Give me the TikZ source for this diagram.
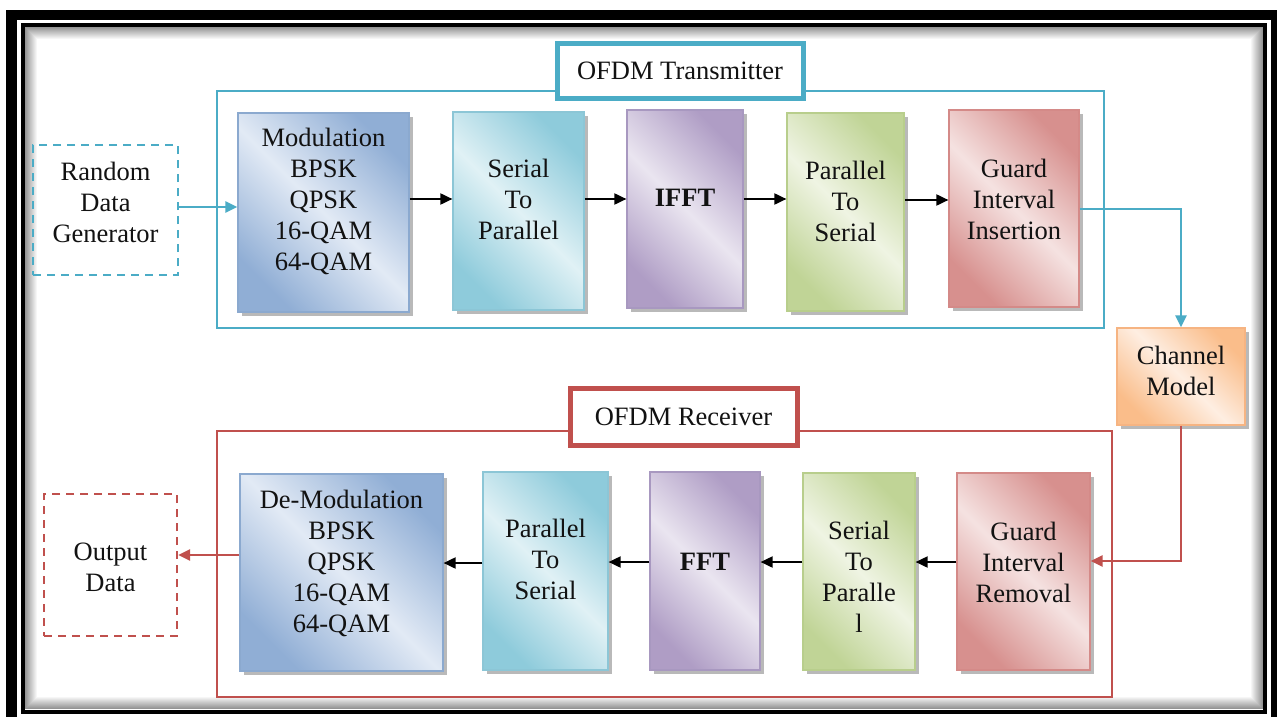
\documentclass[tikz,border=0pt]{standalone}
\usepackage{fontspec}
\setmainfont{Liberation Serif}
\usetikzlibrary{arrows.meta,shadows}

% line colours
\definecolor{tealln}{HTML}{4BACC6}
\definecolor{redln}{HTML}{C0504D}
\definecolor{ink}{HTML}{121212}
% block fills: dark / light / border
\definecolor{bluD}{HTML}{90AED5}
\definecolor{bluL}{HTML}{E2EAF5}
\definecolor{bluB}{HTML}{8BA9CF}
\definecolor{aquD}{HTML}{8ECBDB}
\definecolor{aquL}{HTML}{E0F1F5}
\definecolor{aquB}{HTML}{8CC6D6}
\definecolor{purD}{HTML}{AF9DC5}
\definecolor{purL}{HTML}{EAE5F0}
\definecolor{purB}{HTML}{A898C0}
\definecolor{grnD}{HTML}{C0D496}
\definecolor{grnL}{HTML}{EFF4E3}
\definecolor{grnB}{HTML}{B8CE8C}
\definecolor{redD}{HTML}{D7908E}
\definecolor{redL}{HTML}{F5E2E1}
\definecolor{redB}{HTML}{D48A88}
\definecolor{orgD}{HTML}{FABD8A}
\definecolor{orgL}{HTML}{FEEEE2}
\definecolor{orgB}{HTML}{F6B482}

\tikzset{
  txt/.style={font=\fontsize{26.5}{31}\selectfont, text=ink, align=center, inner sep=0pt},
  blockbox/.style n args={5}{draw=#3, line width=1.2pt,
    top color=#1, bottom color=#1, middle color=#2, shading angle=-45,
    inner sep=0pt, minimum width=#4, minimum height=#5,
    drop shadow={shadow xshift=3.5pt, shadow yshift=-3.5pt, fill=black!50, opacity=0.55}},
  dashbox/.style n args={3}{draw=#1, line width=2.2pt, dash pattern=on 8pt off 6pt,
    inner sep=0pt, minimum width=#2, minimum height=#3},
  frame/.style n args={3}{draw=#1, line width=2pt, inner sep=0pt,
    minimum width=#2, minimum height=#3},
  titlebox/.style n args={3}{draw=#1, line width=5pt, fill=white, txt,
    minimum width=#2, minimum height=#3},
  barr/.style={line width=1.9pt, -{Triangle[length=12pt,width=11pt]}},
  tarr/.style={barr, line width=2.6pt, tealln},
  rarr/.style={barr, line width=2.6pt, redln},
}

\begin{document}
\begin{tikzpicture}[x=1pt,y=-1pt]
\useasboundingbox (0,0) rectangle (1277,717);
\clip (0,0) rectangle (1277,717);
\fill[white] (0,0) rectangle (1277,717);

% page frame: heavy outer border, inner rule with a soft inner shadow
\draw[line width=10.5pt] (11.5,15) rectangle (1276.5,740);
\foreach \i in {0,...,11}{
  \pgfmathsetmacro\shd{42-3.5*\i}
  \draw[black!\shd, line width=1.1pt] ({25.5+\i},{27.5+\i}) rectangle ({1262.5-\i},{708.5-\i});
}
\draw[line width=4pt] (23,25) rectangle (1265,711.5);

% containers
\node[frame={tealln}{887pt}{237pt}] (tx) at (660.5,209.5) {};
\node[frame={redln}{895pt}{266pt}] (rx) at (664.5,564) {};
\node[titlebox={tealln}{246pt}{54pt}] (txt) at (680,71) {OFDM Transmitter};
\node[titlebox={redln}{227pt}{57pt}] (rxt) at (683.5,416.5) {OFDM Receiver};

% transmitter chain
\node[dashbox={tealln}{145pt}{130pt}, label={[txt,yshift=7.5pt]center:Random\\Data\\Generator}] (rnd) at (105.5,210) {};
\node[blockbox={bluD}{bluL}{bluB}{171pt}{199pt}, label={[txt,yshift=11.5pt]center:Modulation\\BPSK\\QPSK\\16-QAM\\64-QAM}] (mod) at (323.5,212.5) {};
\node[blockbox={aquD}{aquL}{aquB}{131pt}{198pt}, label={[txt,yshift=12pt]center:Serial\\To\\Parallel}] (s2p) at (518.5,211) {};
\node[blockbox={purD}{purL}{purB}{116pt}{198pt}, label={[txt,yshift=11pt]center:\textbf{IFFT}}] (ifft) at (685,209) {};
\node[blockbox={grnD}{grnL}{grnB}{117pt}{198pt}, label={[txt,yshift=10.5pt]center:Parallel\\To\\Serial}] (p2s) at (845.5,212) {};
\node[blockbox={redD}{redL}{redB}{130pt}{197pt}, label={[txt,yshift=9.5pt]center:Guard\\Interval\\Insertion}] (gii) at (1014,208.5) {};

% channel
\node[blockbox={orgD}{orgL}{orgB}{128pt}{97pt}, label={[txt,yshift=5.5pt]center:Channel\\Model}] (chm) at (1181,376.5) {};

% receiver chain
\node[blockbox={redD}{redL}{redB}{133pt}{197pt}, label={[txt,yshift=9pt]center:Guard\\Interval\\Removal}] (gir) at (1023.5,571.5) {};
\node[blockbox={grnD}{grnL}{grnB}{112pt}{197pt}, label={[txt,yshift=-5pt]center:Serial\\To\\Paralle\\l}] (s2pr) at (859,571.5) {};
\node[blockbox={purD}{purL}{purB}{110pt}{198pt}, label={[txt,yshift=9.5pt]center:\textbf{FFT}}] (fft) at (705,571) {};
\node[blockbox={aquD}{aquL}{aquB}{125pt}{198pt}, label={[txt,yshift=12pt]center:Parallel\\To\\Serial}] (p2sr) at (545.5,571) {};
\node[blockbox={bluD}{bluL}{bluB}{203pt}{197pt}, label={[txt,yshift=9pt]center:De-Modulation\\BPSK\\QPSK\\16-QAM\\64-QAM}] (dmod) at (341.5,572.5) {};
\node[dashbox={redln}{133pt}{142pt}, label={[txt,yshift=-2.5pt]center:Output\\Data}] (out) at (110.5,565) {};

% connectors, transmitter
\draw[tarr] (rnd.east |- 0,207) -- (mod.west |- 0,207);
\draw[barr] (mod.east |- 0,199) -- (s2p.west |- 0,199);
\draw[barr] (s2p.east |- 0,199) -- (ifft.west |- 0,199);
\draw[barr] (ifft.east |- 0,199) -- (p2s.west |- 0,199);
\draw[barr] (p2s.east |- 0,200) -- (gii.west |- 0,200);
\draw[tarr] (gii.east |- 0,209) -| (chm.north);

% connectors, receiver
\draw[rarr] (chm.south) |- (gir.east |- 0,561);
\draw[barr] (gir.west |- 0,562) -- (s2pr.east |- 0,562);
\draw[barr] (s2pr.west |- 0,562) -- (fft.east |- 0,562);
\draw[barr] (fft.west |- 0,562) -- (p2sr.east |- 0,562);
\draw[barr] (p2sr.west |- 0,563) -- (dmod.east |- 0,563);
\draw[rarr] (dmod.west |- 0,555) -- (out.east |- 0,555);
\end{tikzpicture}
\end{document}
